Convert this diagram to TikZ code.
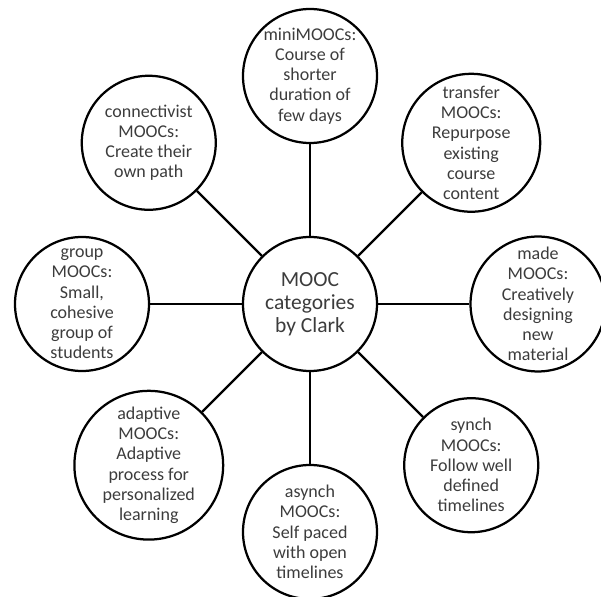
\documentclass[tikz,border=0pt]{standalone}
\usepackage{fontspec}
\setmainfont{Carlito}
\usepackage{xcolor}
\usepackage{tikz}

\definecolor{txtgray}{RGB}{60,60,60}

\tikzset{
    mooc/.style={circle, draw=black, line width=1.6pt, minimum size=3.35cm, inner sep=0pt,
        align=center, text=txtgray, font=\fontsize{12.8}{14.4}\selectfont},
    hub/.style={mooc, font=\fontsize{15.3}{16.4}\selectfont},
    link/.style={line width=1.6pt}
}

\begin{document}
\begin{tikzpicture}
    \useasboundingbox (-7.75,-7.325) rectangle (7.275,7.6);

    % Cercle central
    \node[hub] (clark) at (0,0) {MOOC\\categories\\by Clark};

    % Categories autour
    \node[mooc] (mini) at (90:5.7) {miniMOOCs:\\Course of\\shorter\\duration of\\few days};
    \node[mooc] (transfer) at (45:5.7) {transfer\\MOOCs:\\Repurpose\\existing\\course\\content};
    \node[mooc] (made) at (0:5.7) {made\\MOOCs:\\Creatively\\designing\\new\\material};
    \node[mooc] (synch) at (-45:5.7) {synch\\MOOCs:\\Follow well\\defined\\timelines};
    \node[mooc] (asynch) at (-90:5.7) {asynch\\MOOCs:\\Self paced\\with open\\timelines};
    \node[mooc] (adaptive) at (-135:5.7) {adaptive\\MOOCs:\\Adaptive\\process for\\personalized\\learning};
    \node[mooc] (group) at (180:5.7) {group\\MOOCs:\\Small,\\cohesive\\group of\\students};
    \node[mooc] (connectivist) at (135:5.7) {connectivist\\MOOCs:\\Create their\\own path};

    % Liaisons
    \foreach \n in {mini,transfer,made,synch,asynch,adaptive,group,connectivist} {
        \draw[link] (clark) -- (\n);
    }
\end{tikzpicture}
\end{document}
